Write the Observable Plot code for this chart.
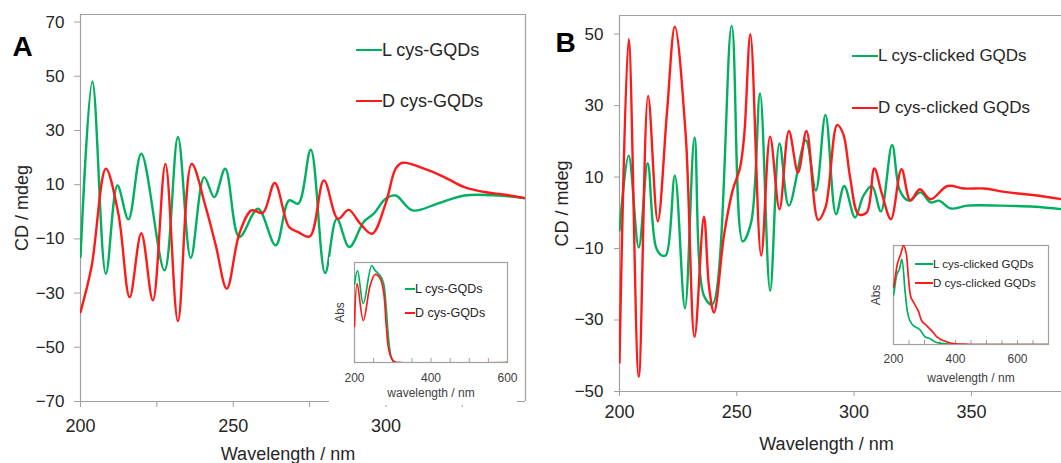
<!DOCTYPE html>
<html>
<head>
<meta charset="utf-8">
<script src="https://cdn.jsdelivr.net/npm/d3@7"></script>
<script src="https://cdn.jsdelivr.net/npm/@observablehq/plot@0.6"></script>
<style>
  body { margin: 0; background: #fff; }
  #wrap { position: relative; width: 1061px; height: 463px; overflow: hidden; background: #fff;
          font-family: "Liberation Sans", Arial, sans-serif; color: #262626; }
  #wrap svg { position: absolute; }
  .leg { position: absolute; display: flex; align-items: center; white-space: nowrap; height: 30px; }
  .leg .sw { display: inline-block; height: 0; }
</style>
</head>
<body>
<div id="wrap"></div>
<script>
// ---------------- DATA ----------------
// Panel A : CD spectra (nm, mdeg)
const wlA_L = [200, 203.9, 208.3, 212.1, 215.7, 219.9, 227.5, 231.9, 236.1, 240.5, 243.8, 247.4, 252, 258.1, 263.9, 268.3, 271.3, 275.4, 280.1, 283.9, 288, 292.7, 296, 299.9, 303.2, 308.7, 316.9, 325.7, 336.7, 345.7];
const cdA_L = [-16.7, 48.1, -22.9, 9.7, -2.8, 21.4, -21.6, 27.6, -17, 12.8, 5.4, 15.9, -9.3, 1.1, -12.4, 4.2, 3, 22.9, -22.6, -2.6, -13, -3.8, -0.7, 4.8, 6, 0.5, 3, 6, 6, 5];
const wlA_D = [200, 203.6, 208.3, 212.4, 216.1, 219.9, 223.7, 227.8, 231.9, 236.4, 241, 244.3, 247.9, 252, 256, 259.7, 263.6, 268.3, 271.3, 275.1, 279.7, 284.3, 287.8, 291.6, 295.5, 299.9, 303.2, 305.4, 312.5, 319.1, 325.7, 332.3, 338.9, 345.7];
const cdA_D = [-37, -20.4, 15.9, -0.7, -31.5, -7.9, -32.7, 17.7, -40.3, 17.7, 1.7, -12.4, -28.4, -8.1, 0.5, -0.4, 10.6, -5.6, -7.5, -9.1, 11.6, -2.6, 0.7, -4.4, -8.1, 3, 15.9, 18.1, 15.9, 12.8, 9.1, 7.3, 6.3, 5];

// Panel A inset : absorbance (nm, normalised)
const absWlA_L = [200, 208, 223, 245, 254, 267, 276, 283, 289, 295, 300, 310, 600];
const absA_L   = [0.78, 0.92, 0.59, 0.97, 0.92, 0.87, 0.79, 0.54, 0.24, 0.07, 0.02, 0, 0];
const absWlA_D = [200, 207, 223, 241, 254, 267, 276, 283, 289, 297, 305, 320, 600];
const absA_D   = [0.36, 0.79, 0.42, 0.77, 0.88, 0.84, 0.71, 0.37, 0.14, 0.04, 0.005, 0, 0];

// Panel B : CD spectra (nm, mdeg)
const wlB_L = [200, 203.9, 208.2, 212, 215.6, 218.2, 219.9, 223.6, 227.9, 232, 236, 239.6, 247.8, 252.5, 256.1, 259.9, 264.2, 268.2, 272.2, 279.4, 283.7, 287.8, 292.3, 295.8, 300.4, 304, 307.6, 311.4, 316.2, 319.5, 323.3, 328.3, 332.6, 336.2, 341.2, 348.3, 362.7, 377, 388.4];
const cdB_L = [-5, 16, -9.7, 13.9, -9.7, -12, -11.8, 10.4, -26.7, 21.1, -23.2, -25.6, 52.3, -8, -2.7, 33.4, -21.8, 19.4, 2, 20.3, 6.2, 27.4, -0.4, 7.5, -1.3, 4.8, 7.5, 0.4, 19, 6.2, 3.4, 5.7, 2.9, 3.4, 1.2, 2, 2, 1.7, 1];
const wlB_D = [200, 203.9, 208.2, 212.2, 216.3, 220.3, 223.6, 228.2, 232, 236, 238.2, 240.3, 244.6, 248.2, 251.4, 253.2, 255.8, 260.4, 264.2, 268.2, 272.2, 276.1, 279.7, 284.7, 287.8, 292.8, 295.4, 298.3, 301.9, 305.4, 308.6, 311.9, 315.7, 320.2, 324, 328, 332.6, 339.8, 346.9, 355.5, 362.7, 369.8, 377, 388.4];
const cdB_D = [-41.9, 48.6, -45.9, 32.7, -2.4, 28.6, 52.1, 22, -34.7, -1.1, -20.9, -27.9, -6, 6.2, 12.7, 22, 50, -12, 21.3, 1, 22.9, 11.3, 22.9, -2, 1.5, 24.6, 22, 9.9, -0.4, 0.1, 12.4, 5.2, -1.8, 12.2, 3.4, 6.6, 3.8, 7.5, 6.8, 6.8, 6, 5.4, 4.9, 3.8];

// Panel B inset : absorbance (nm, normalised)
const absWlB_L = [200, 202, 211, 219, 227, 237, 245, 253, 264, 285, 301, 317, 339, 371, 420, 700];
const absB_L   = [0.5, 0.53, 0.71, 0.76, 0.86, 0.55, 0.33, 0.24, 0.19, 0.15, 0.08, 0.06, 0.02, 0.007, 0, 0];
const absWlB_D = [200, 202, 211, 214, 224, 232, 241, 248, 256, 264, 280, 291, 307, 323, 339, 360, 387, 424, 450, 700];
const absB_D   = [0.58, 0.61, 0.79, 0.83, 0.92, 1.0, 0.92, 0.68, 0.48, 0.43, 0.34, 0.24, 0.19, 0.14, 0.08, 0.04, 0.013, 0.003, 0, 0];

// Tick values and labels
const yTicksA = [-70, -50, -30, -10, 10, 30, 50, 70];
const xTicksA = [200, 225, 250, 275, 300, 325];
const xLabelsA = [200, 250, 300];
const yTicksB = [-50, -30, -10, 10, 30, 50];
const xTicksB = [200, 250, 300, 350];
const insetTicksA = [200, 250, 300, 350, 400, 450, 500, 550, 600];
const insetTicksB = [200, 250, 300, 350, 400, 450, 500, 550, 600, 650, 700];
const insetLabels = [200, 400, 600];

const seriesNamesA = ["L cys-GQDs", "D cys-GQDs"];
const seriesNamesB = ["L cys-clicked GQDs", "D cys-clicked GQDs"];

// ---------------- STYLE ----------------
const GREEN = "#00b060", RED = "#ff1a1a";
const AXIS = "#a0a0a0", TXT = "#262626", TXT2 = "#404040";
const FONT = "'Liberation Sans', Arial, sans-serif";

const rows = (wl, v) => wl.map((w, i) => ({wl: w, v: v[i]}));
const wrap = document.getElementById("wrap");

function place(svg, left, top) {
  svg.style.left = left + "px";
  svg.style.top = top + "px";
  wrap.appendChild(svg);
}

function mainPanel(o) {
  return Plot.plot({
    width: o.width, height: 463,
    marginLeft: o.ml, marginRight: o.mr, marginTop: o.mt, marginBottom: o.mb,
    style: {fontFamily: FONT, fontSize: "17px", color: TXT, background: "transparent", overflow: "visible"},
    x: {domain: o.xDomain, axis: null},
    y: {domain: o.yDomain, axis: null},
    marks: [
      Plot.ruleX(o.vRules, {stroke: AXIS, strokeWidth: 1.2}),
      Plot.ruleY(o.hRules, {stroke: AXIS, strokeWidth: 1.2}),
      Plot.axisY(o.yTicks, {tickSize: o.yTickSize, tickPadding: o.yPad, stroke: AXIS, fill: TXT, fontSize: 17, label: null}),
      Plot.axisX(o.xTicks, {tickSize: o.xTickSize, tickPadding: o.xPad, stroke: AXIS, fill: TXT, fontSize: 18, label: null,
        tickFormat: d => o.xLabels.includes(d) ? String(d) : ""}),
      Plot.line(rows(o.wlL, o.cdL), {x: "wl", y: "v", stroke: GREEN, strokeWidth: 2.4, curve: "catmull-rom", clip: true}),
      Plot.line(rows(o.wlD, o.cdD), {x: "wl", y: "v", stroke: RED, strokeWidth: 2.4, curve: "catmull-rom", clip: true}),
      Plot.text([o.letter], {text: d => d, frameAnchor: "top-left", dx: o.letterDx, dy: o.letterDy, lineAnchor: "bottom",
        textAnchor: "start", fontSize: o.letterSize, fontWeight: "bold", fill: "#000"}),
      Plot.text(["CD / mdeg"], {text: d => d, frameAnchor: "left", rotate: -90, dx: o.yLabelDx, dy: o.yLabelDy,
        textAnchor: "middle", lineAnchor: "middle", fontSize: 18, fill: TXT}),
      Plot.text(["Wavelength / nm"], {text: d => d, frameAnchor: "bottom", dx: o.xLabelDx, dy: o.xLabelDy,
        textAnchor: "middle", lineAnchor: "middle", fontSize: 18, fill: TXT})
    ]
  });
}

function insetPanel(o) {
  return Plot.plot({
    width: o.width, height: o.height,
    marginLeft: o.ml, marginRight: o.mr, marginTop: o.mt, marginBottom: o.mb,
    style: {fontFamily: FONT, fontSize: "12px", color: TXT2, background: "#fff", overflow: "visible"},
    x: {domain: o.xDomain, axis: null},
    y: {domain: [0, 1], axis: null},
    marks: [
      Plot.frame({stroke: AXIS, strokeWidth: 1.2}),
      Plot.tickX(o.ticks, {x: d => d, stroke: AXIS, insetTop: o.height - o.mt - o.mb - 4}),
      Plot.axisX(o.labels, {tickSize: 0, tickPadding: o.tickPad, fill: TXT2, fontSize: 12, label: null}),
      Plot.line(rows(o.wlL, o.vL), {x: "wl", y: "v", stroke: GREEN, strokeWidth: 1.7, curve: "catmull-rom", clip: true}),
      Plot.line(rows(o.wlD, o.vD), {x: "wl", y: "v", stroke: RED, strokeWidth: 1.7, curve: "catmull-rom", clip: true}),
      Plot.text(["Abs"], {text: d => d, frameAnchor: "left", rotate: -90, dx: o.absDx, textAnchor: "middle",
        lineAnchor: "middle", fontSize: 12, fill: TXT2}),
      Plot.text(["wavelength / nm"], {text: d => d, frameAnchor: "bottom", dy: o.labDy, textAnchor: "middle",
        lineAnchor: "middle", fontSize: 12, fill: TXT2})
    ]
  });
}

function legend(left, y, color, label, fontSize, lineLen, lineW) {
  const div = document.createElement("div");
  div.className = "leg";
  div.style.left = left + "px";
  div.style.top = (y - 15) + "px";
  div.style.fontSize = fontSize + "px";
  const sw = document.createElement("span");
  sw.className = "sw";
  sw.style.width = lineLen + "px";
  sw.style.borderTop = lineW + "px solid " + color;
  const t = document.createElement("span");
  t.textContent = label;
  t.style.color = TXT;
  div.appendChild(sw);
  div.appendChild(t);
  wrap.appendChild(div);
}

// ---------------- PANEL A ----------------
const xDomainA = [200, 345.7], yDomainA = [-70, 72.8];
place(mainPanel({
  width: 530, ml: 80, mr: 5, mt: 14, mb: 62,
  xDomain: xDomainA, yDomain: yDomainA,
  vRules: xDomainA, hRules: yDomainA,
  yTicks: yTicksA, xTicks: xTicksA, xLabels: xLabelsA,
  yTickSize: 6, yPad: 10, xTickSize: 6, xPad: 12,
  wlL: wlA_L, cdL: cdA_L, wlD: wlA_D, cdD: cdA_D,
  letter: "A", letterDx: -68, letterDy: 41.5, letterSize: 28,
  yLabelDx: -58, yLabelDy: 0, xLabelDx: -15, xLabelDy: 53
}), 0, 0);

place(insetPanel({
  width: 188, height: 148, ml: 25, mr: 10, mt: 5, mb: 43,
  xDomain: [200, 600], ticks: insetTicksA, labels: insetLabels, tickPad: 11,
  wlL: absWlA_L, vL: absA_L, wlD: absWlA_D, vD: absA_D,
  absDx: -14, labDy: 31
}), 329, 257);

legend(356, 50, GREEN, seriesNamesA[0], 18, 26, 2.8);
legend(356, 101, RED, seriesNamesA[1], 18, 26, 2.8);
legend(405, 289, GREEN, seriesNamesA[0], 12.5, 10, 2);
legend(405, 313, RED, seriesNamesA[1], 12.5, 10, 2);

// ---------------- PANEL B ----------------
const xDomainB = [200, 388.4], yDomainB = [-50, 55.2];
place(mainPanel({
  width: 531, ml: 89, mr: 0, mt: 15, mb: 72,
  xDomain: xDomainB, yDomain: yDomainB,
  vRules: [xDomainB[0]], hRules: yDomainB,
  yTicks: yTicksB, xTicks: xTicksB, xLabels: xTicksB,
  yTickSize: 5, yPad: 11, xTickSize: 5, xPad: 9,
  wlL: wlB_L, cdL: cdB_L, wlD: wlB_D, cdD: cdB_D,
  letter: "B", letterDx: -64, letterDy: 36, letterSize: 28,
  yLabelDx: -57, yLabelDy: 0, xLabelDx: -14, xLabelDy: 53
}), 530, 0);

place(insetPanel({
  width: 190, height: 147, ml: 25, mr: 10, mt: 5, mb: 43,
  xDomain: [200, 700], ticks: insetTicksB, labels: insetLabels, tickPad: 10,
  wlL: absWlB_L, vL: absB_L, wlD: absWlB_D, vD: absB_D,
  absDx: -17, labDy: 34
}), 868, 240);

legend(852, 56, GREEN, seriesNamesB[0], 17, 26, 2.8);
legend(852, 108, RED, seriesNamesB[1], 17, 26, 2.8);
legend(915, 264, GREEN, seriesNamesB[0], 11.5, 18, 2);
legend(915, 283, RED, seriesNamesB[1], 11.5, 18, 2);
</script>
</body>
</html>
